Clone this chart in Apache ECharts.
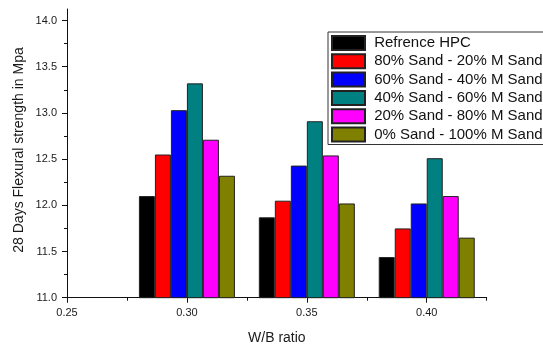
<!DOCTYPE html>
<html>
<head>
<meta charset="utf-8">
<script src="https://cdn.jsdelivr.net/npm/echarts@6/dist/echarts.min.js"></script>
<style>
  html, body { margin: 0; padding: 0; background: #fff; }
  #chart { width: 543px; height: 345px; }
</style>
</head>
<body>
<div id="chart"></div>
<script>
// W/B ratios at which the mixes were tested
const wbRatios = [0.30, 0.35, 0.40];

// 28-day flexural strength (MPa) for each mix
const refHPC      = [12.10, 11.87, 11.44];
const sand80_ms20 = [12.55, 12.05, 11.75];
const sand60_ms40 = [13.03, 12.43, 12.02];
const sand40_ms60 = [13.32, 12.91, 12.51];
const sand20_ms80 = [12.71, 12.54, 12.10];
const sand0_ms100 = [12.32, 12.02, 11.65];

const seriesNames = [
  'Refrence HPC',
  '80% Sand - 20% M Sand',
  '60% Sand - 40% M Sand',
  '40% Sand - 60% M Sand',
  '20% Sand - 80% M Sand',
  '0% Sand - 100% M Sand'
];
const seriesValues = [refHPC, sand80_ms20, sand60_ms40, sand40_ms60, sand20_ms80, sand0_ms100];
const seriesColors = ['#000000', '#ff0000', '#0000ff', '#008080', '#ff00ff', '#808000'];

// Axis tick positions
const xMajorTicks = [0.25, 0.30, 0.35, 0.40];
const xMinorTicks = [0.275, 0.325, 0.375, 0.425];
const yMajorTicks = [11.0, 11.5, 12.0, 12.5, 13.0, 13.5, 14.0];
const yMinorTicks = [11.25, 11.75, 12.25, 12.75, 13.25, 13.75];

const FONT = 'Arial, "Liberation Sans", sans-serif';
const INK = '#1a1a1a';

const chart = echarts.init(document.getElementById('chart'), null, { renderer: 'canvas' });

const series = seriesNames.map((name, i) => ({
  name: name,
  type: 'bar',
  xAxisIndex: 0,
  yAxisIndex: 0,
  barWidth: 16,
  barGap: '0%',
  data: wbRatios.map((x, j) => [x, seriesValues[i][j]]),
  itemStyle: { color: seriesColors[i], borderColor: '#222', borderWidth: 1 },
  emphasis: { disabled: true }
}));

chart.setOption({
  animation: false,
  backgroundColor: '#ffffff',
  textStyle: { fontFamily: FONT },
  grid: { left: 67, right: 56.3, top: 9, bottom: 47.3, containLabel: false, outerBoundsMode: 'none' },
  xAxis: [
    {
      type: 'value',
      min: 0.25, max: 0.425, interval: 0.05,
      name: 'W/B ratio',
      nameLocation: 'middle',
      nameGap: 33,
      nameTextStyle: { fontSize: 14, color: INK, fontFamily: FONT },
      axisLine: { show: true, onZero: false, lineStyle: { color: '#111', width: 1 } },
      axisTick: { show: true, inside: false, length: 5, customValues: xMajorTicks, lineStyle: { color: '#111' } },
      axisLabel: {
        customValues: xMajorTicks,
        fontSize: 11, color: INK, margin: 10, fontFamily: FONT,
        formatter: v => v.toFixed(2)
      },
      splitLine: { show: false }
    },
    {
      type: 'value',
      position: 'bottom',
      min: 0.25, max: 0.425, interval: 0.025,
      axisLine: { show: false },
      axisTick: { show: true, inside: false, length: 3, customValues: xMinorTicks, lineStyle: { color: '#111' } },
      axisLabel: { show: false },
      splitLine: { show: false }
    }
  ],
  yAxis: [
    {
      type: 'value',
      min: 11, max: 14.125, interval: 0.5,
      axisLine: { show: true, onZero: false, lineStyle: { color: '#111', width: 1 } },
      axisTick: { show: true, inside: false, length: 5, customValues: yMajorTicks, lineStyle: { color: '#111' } },
      axisLabel: {
        customValues: yMajorTicks,
        fontSize: 11, color: INK, margin: 10, fontFamily: FONT,
        formatter: v => v.toFixed(1)
      },
      splitLine: { show: false }
    },
    {
      type: 'value',
      position: 'left',
      min: 11, max: 14.125, interval: 0.25,
      axisLine: { show: false },
      axisTick: { show: true, inside: false, length: 3, customValues: yMinorTicks, lineStyle: { color: '#111' } },
      axisLabel: { show: false },
      splitLine: { show: false }
    }
  ],
  legend: {
    orient: 'vertical',
    left: 328, top: 32,
    itemWidth: 33, itemHeight: 14, itemGap: 2.3,
    icon: 'rect',
    padding: [3, 3, 2, 3],
    backgroundColor: '#ffffff',
    borderColor: '#333',
    borderWidth: 1,
    formatter: name => ' ' + name,
    textStyle: { fontSize: 15, color: '#111', fontFamily: FONT, lineHeight: 16 },
    selectedMode: false,
    z: 10
  },
  graphic: [
    {
      type: 'text',
      x: 19, y: 150,
      rotation: Math.PI / 2,
      style: {
        text: '28 Days Flexural strength in Mpa',
        fontSize: 14,
        fontFamily: FONT,
        fill: INK,
        textAlign: 'center',
        textVerticalAlign: 'middle'
      }
    }
  ],
  series: series
});
</script>
</body>
</html>
